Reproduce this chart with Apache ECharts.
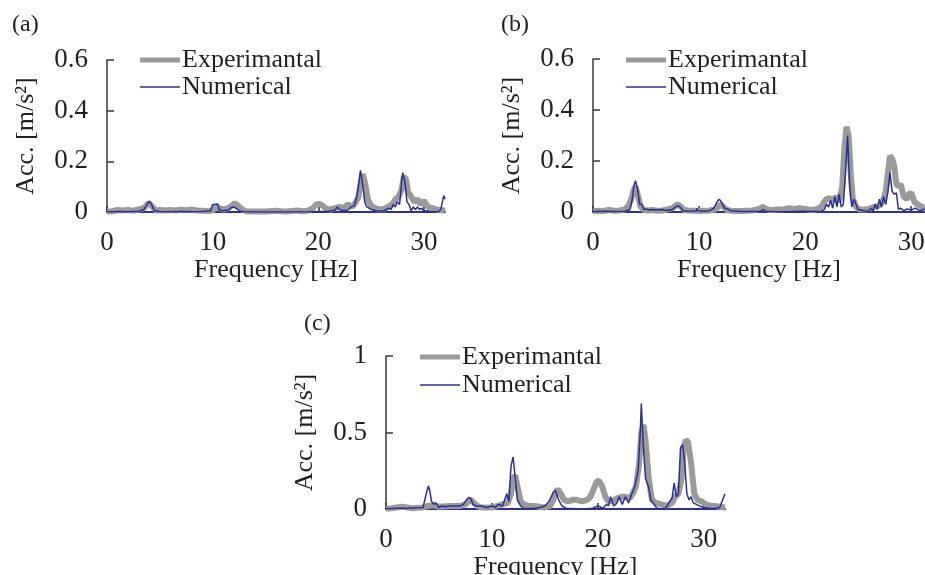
<!DOCTYPE html>
<html>
<head>
<meta charset="utf-8">
<script src="https://cdn.jsdelivr.net/npm/echarts@6.0.0/dist/echarts.min.js"></script>
<style>html,body{margin:0;padding:0;background:#fff}#c{width:925px;height:575px}</style>
</head>
<body>
<div id="c"></div>
<script>
// ---------- Data ----------
var panelLabels = ['(a)', '(b)', '(c)'];
var seriesNames = ['Experimantal', 'Numerical'];
var xTicks = [0, 10, 20, 30];
var yTicksAB = [0, 0.2, 0.4, 0.6];
var yTicksC = [0, 0.5, 1];

// Panel (a)
var fA_exp = [0,0.5,1,1.5,2,2.5,3,3.5,3.8,4.0,4.3,4.7,5,5.5,6,6.5,7,7.5,8,8.5,9,9.5,10,10.3,10.6,11,11.5,11.8,12.1,12.4,12.8,13.2,14,15,16,16.5,17,18,18.5,19,19.5,19.8,20.1,20.4,20.8,21.2,21.6,22,22.4,22.8,23.2,23.5,23.8,24.0,24.2,24.4,24.7,25.0,25.4,25.8,26.2,26.6,27.0,27.3,27.6,27.9,28.1,28.3,28.5,28.8,29.1,29.4,29.7,30.0,30.4,30.8,31.2,31.6,32];
var aA_exp = [0.002,0.003,0.008,0.006,0.008,0.005,0.01,0.015,0.03,0.035,0.02,0.005,0.008,0.006,0.008,0.006,0.009,0.007,0.01,0.006,0.005,0.004,0.006,0.02,0.015,0.01,0.015,0.025,0.035,0.025,0.01,0.003,0.002,0.002,0.005,0.003,0.002,0.006,0.003,0.005,0.015,0.03,0.032,0.025,0.012,0.01,0.015,0.02,0.015,0.03,0.02,0.035,0.06,0.11,0.15,0.12,0.05,0.025,0.015,0.01,0.012,0.02,0.03,0.05,0.06,0.09,0.14,0.13,0.08,0.06,0.04,0.05,0.03,0.045,0.02,0.015,0.01,0.008,0.005];
var fA_num = [0,1,2,3,3.5,3.8,4.0,4.2,4.5,5,6,7,8,9,9.8,10.0,10.1,10.5,10.6,10.9,11.5,11.8,12.0,12.3,12.6,13,15,17,19,20,21,21.6,21.8,22.0,22.4,22.8,23.1,23.4,23.6,23.8,24.0,24.2,24.4,24.6,25,25.5,26,26.4,26.7,26.9,27.1,27.3,27.5,27.7,27.9,28.0,28.2,28.4,28.6,28.8,29.0,29.2,29.4,29.6,29.8,30.0,30.3,30.6,31,31.4,31.6,31.8,31.9,32];
var aA_num = [0,0.002,0.001,0.003,0.01,0.03,0.043,0.03,0.005,0.002,0.001,0.002,0.001,0.002,0.005,0.03,0.032,0.032,0.01,0.005,0.008,0.018,0.02,0.012,0.003,0.001,0,0,0.001,0.002,0.003,0.008,0.02,0.01,0.005,0.008,0.02,0.025,0.05,0.1,0.164,0.11,0.04,0.02,0.01,0.005,0.003,0.008,0.015,0.01,0.03,0.02,0.04,0.03,0.12,0.155,0.12,0.04,0.03,0.005,0.02,0.01,0.02,0.01,0.015,0.003,0.005,0.002,0.001,0.002,0.01,0.05,0.064,0.05];

// Panel (b)
var fB_exp = [0,0.5,1,1.5,2,2.5,3,3.3,3.6,3.8,4.0,4.2,4.5,4.8,5.2,5.6,6,6.5,7,7.5,7.8,8.0,8.3,8.6,9,9.5,10,10.5,11,11.5,11.8,12.0,12.3,12.6,13,13.5,14,14.5,15,15.5,15.8,16.0,16.3,16.6,17,17.5,18,18.5,19,19.5,20,20.5,21,21.5,21.8,22.0,22.3,22.6,22.9,23.2,23.5,23.7,23.9,24.1,24.3,24.5,24.8,25.1,25.5,26,26.5,27,27.3,27.6,27.8,28.0,28.2,28.4,28.6,28.8,29.0,29.3,29.6,29.8,30.0,30.3,30.6,31.0,31.3];
var aB_exp = [0.003,0.005,0.004,0.008,0.005,0.006,0.01,0.02,0.05,0.08,0.1,0.07,0.02,0.008,0.006,0.008,0.005,0.006,0.01,0.015,0.025,0.03,0.02,0.008,0.006,0.005,0.004,0.005,0.006,0.01,0.02,0.03,0.02,0.008,0.005,0.004,0.004,0.005,0.006,0.01,0.015,0.02,0.012,0.008,0.008,0.01,0.01,0.015,0.012,0.015,0.012,0.008,0.01,0.02,0.04,0.05,0.055,0.045,0.06,0.04,0.1,0.25,0.334,0.3,0.15,0.05,0.02,0.01,0.01,0.012,0.02,0.025,0.04,0.08,0.15,0.22,0.21,0.18,0.11,0.1,0.11,0.06,0.05,0.07,0.075,0.04,0.03,0.02,0.015];
var fB_num = [0,1,2,3,3.5,3.7,3.85,4.0,4.2,4.4,4.6,4.8,5.0,5.3,5.6,6,6.5,7,7.5,7.8,8.0,8.2,8.5,9,9.5,9.75,9.8,9.85,10,10.5,11,11.4,11.7,11.9,12.1,12.4,12.7,13,14,15,15.8,16.0,16.3,17,18,19,20,21,21.5,21.8,22.0,22.2,22.4,22.6,22.8,23.0,23.2,23.4,23.6,23.8,24.0,24.2,24.4,24.6,24.8,25.0,25.5,26,26.2,26.4,26.6,26.8,27.0,27.2,27.4,27.6,27.8,28.0,28.2,28.4,28.6,28.8,29.0,29.3,29.6,30,30.4,30.8,31.3];
var aB_num = [0.002,0.003,0.002,0.003,0.01,0.05,0.1,0.123,0.09,0.03,0.03,0.01,0.012,0.008,0.01,0.008,0.01,0.006,0.01,0.02,0.025,0.02,0.005,0.003,0.004,0.005,0.015,0.005,0.003,0.003,0.005,0.015,0.04,0.05,0.04,0.015,0.012,0.005,0.002,0.002,0.003,0.01,0.003,0.002,0.001,0.002,0.003,0.002,0.003,0.01,0.03,0.02,0.045,0.015,0.06,0.02,0.07,0.02,0.03,0.15,0.3,0.1,0.02,0.05,0.03,0.01,0.005,0.003,0.015,0.005,0.03,0.01,0.05,0.02,0.06,0.03,0.08,0.155,0.08,0.07,0.075,0.01,0.015,0.005,0.012,0.008,0.015,0.005,0.012];

// Panel (c)
var fC_exp = [0,0.5,1,1.5,2,2.5,3,3.5,4,4.5,5,6,7,7.5,7.8,8.0,8.3,8.6,9,10,10.5,11,11.5,11.8,12.0,12.2,12.4,12.7,13,13.5,14,14.5,15,15.5,15.8,16.0,16.2,16.5,16.8,17.2,17.6,18,18.5,19,19.3,19.6,19.9,20.1,20.4,20.7,21,21.4,21.8,22.2,22.6,23,23.3,23.6,23.9,24.1,24.3,24.5,24.8,25.1,25.5,26,26.5,27,27.3,27.6,27.9,28.1,28.3,28.5,28.8,29.1,29.4,29.8,30.2,30.6,31,31.5,32];
var aC_exp = [0.002,0.005,0.01,0.015,0.01,0.005,0.008,0.01,0.02,0.025,0.015,0.02,0.02,0.03,0.05,0.06,0.04,0.02,0.01,0.01,0.02,0.03,0.04,0.1,0.2,0.22,0.15,0.05,0.03,0.02,0.02,0.015,0.01,0.02,0.06,0.1,0.13,0.1,0.06,0.05,0.06,0.06,0.05,0.06,0.08,0.13,0.18,0.185,0.15,0.08,0.05,0.05,0.07,0.08,0.08,0.07,0.1,0.15,0.3,0.5,0.55,0.45,0.2,0.06,0.04,0.03,0.02,0.04,0.08,0.1,0.2,0.4,0.45,0.44,0.3,0.1,0.06,0.05,0.03,0.02,0.02,0.015,0.01];
var fC_num = [0,1,2,3,3.5,3.8,4.0,4.1,4.3,4.5,4.7,5.0,5.3,5.6,6,6.5,7,7.3,7.6,7.8,8.0,8.2,8.5,9,9.5,10,10.3,10.6,11,11.2,11.4,11.6,11.8,12.0,12.2,12.4,12.7,13,13.5,14,14.5,15,15.4,15.8,16.0,16.3,16.6,17,18,19,19.5,20,20.5,20.8,21.0,21.2,21.5,21.8,22.0,22.3,22.6,22.9,23.2,23.5,23.8,24.0,24.1,24.3,24.5,24.8,25.0,25.3,25.6,26,26.4,26.7,27.0,27.2,27.4,27.6,27.8,28.0,28.2,28.4,28.6,28.8,29.0,29.3,29.6,30,30.5,31,31.5,32];
var aC_num = [0.002,0.005,0.005,0.008,0.01,0.1,0.15,0.13,0.05,0.03,0.04,0.01,0.02,0.015,0.02,0.02,0.02,0.03,0.06,0.075,0.07,0.03,0.02,0.02,0.01,0.02,0.01,0.03,0.02,0.06,0.1,0.05,0.28,0.34,0.2,0.06,0.02,0.005,0.003,0.005,0.01,0.02,0.05,0.11,0.12,0.06,0.02,0.005,0.002,0.003,0.005,0.02,0.005,0.03,0.02,0.08,0.02,0.04,0.08,0.03,0.08,0.04,0.1,0.15,0.25,0.5,0.69,0.4,0.2,0.14,0.06,0.03,0.005,0.002,0.005,0.04,0.07,0.17,0.08,0.1,0.4,0.42,0.3,0.1,0.06,0.08,0.04,0.03,0.02,0.01,0.005,0.003,0.01,0.1];

// ---------- Chart ----------
function zip(f, a) { return f.map(function (x, i) { return [x, a[i]]; }); }

var FONT = 'Liberation Serif';
var TXT = '#231f20';
var GRAY = '#9a9a9a';
var BLUE = '#2b3190';

var grids = [
  { left: 107, top: 60, width: 338, height: 152, outerBoundsMode: 'none', containLabel: false },
  { left: 593, top: 59, width: 332, height: 153, outerBoundsMode: 'none', containLabel: false },
  { left: 386, top: 356, width: 339, height: 153, outerBoundsMode: 'none', containLabel: false }
];
var xMax = [32, 31.3, 32];
var yMax = [0.6, 0.6, 1];
var yInt = [0.2, 0.2, 0.5];
var yTicks = [yTicksAB, yTicksAB, yTicksC];
var expData = [zip(fA_exp, aA_exp), zip(fB_exp, aB_exp), zip(fC_exp, aC_exp)];
var numData = [zip(fA_num, aA_num), zip(fB_num, aB_num), zip(fC_num, aC_num)];
var labelPos = [[12, 13], [501, 13], [304, 312]];
var legendPos = [[140, 60], [626, 60], [420, 357]];
var legendStep = [27, 27, 28];
var legendLineW = [5, 1.5];

var xAxes = [], yAxes = [], series = [], titles = [], legends = [];
for (var i = 0; i < 3; i++) {
  xAxes.push({
    type: 'value', gridIndex: i, min: 0, max: xMax[i], interval: 10,
    name: 'Frequency [Hz]', nameLocation: 'middle', nameGap: 42,
    nameTextStyle: { fontFamily: FONT, fontSize: 26, color: TXT },
    axisLine: { show: true, lineStyle: { color: BLUE, width: 2 } },
    axisTick: { show: true, inside: true, length: 6, customValues: xTicks, lineStyle: { color: '#333', width: 1.5 } },
    axisLabel: { customValues: xTicks, margin: 17, fontFamily: FONT, fontSize: 27, color: TXT },
    splitLine: { show: false }
  });
  yAxes.push({
    type: 'value', gridIndex: i, min: 0, max: yMax[i], interval: yInt[i],
    name: 'Acc. [m/s²]', nameLocation: 'middle', nameGap: 68,
    nameTextStyle: { fontFamily: FONT, fontSize: 26, color: TXT },
    axisLine: { show: true, lineStyle: { color: '#3a3a3a', width: 1.5 } },
    axisTick: { show: true, inside: true, length: 7, customValues: yTicks[i], lineStyle: { color: '#3a3a3a', width: 1.5 } },
    axisLabel: { customValues: yTicks[i], margin: 19, fontFamily: FONT, fontSize: 27, color: TXT },
    splitLine: { show: false }
  });
  series.push({
    name: seriesNames[0], type: 'line', xAxisIndex: i, yAxisIndex: i,
    data: expData[i], showSymbol: false, symbol: 'none', animation: false,
    lineStyle: { color: GRAY, width: 6 }, itemStyle: { color: GRAY }, z: 2
  });
  series.push({
    name: seriesNames[1], type: 'line', xAxisIndex: i, yAxisIndex: i,
    data: numData[i], showSymbol: false, symbol: 'none', animation: false,
    lineStyle: { color: BLUE, width: 1.5 }, itemStyle: { color: BLUE }, z: 3
  });
  titles.push({
    text: panelLabels[i], left: labelPos[i][0], top: labelPos[i][1], padding: 0,
    textStyle: { fontFamily: FONT, fontSize: 24, fontWeight: 'normal', color: TXT }
  });
  for (var k = 0; k < 2; k++) {
    legends.push({
      data: [{ name: seriesNames[k], icon: 'rect' }],
      left: legendPos[i][0], top: legendPos[i][1] + k * legendStep[i] - 13,
      padding: 0, itemWidth: 40, itemHeight: legendLineW[k], selectedMode: false,
      textStyle: { fontFamily: FONT, fontSize: 26, color: TXT, lineHeight: 26, padding: [0, 0, 0, -3] }
    });
  }
}

var chart = echarts.init(document.getElementById('c'), null, { renderer: 'canvas' });
chart.setOption({
  backgroundColor: '#ffffff',
  animation: false,
  title: titles,
  legend: legends,
  grid: grids,
  xAxis: xAxes,
  yAxis: yAxes,
  series: series
});
</script>
</body>
</html>
